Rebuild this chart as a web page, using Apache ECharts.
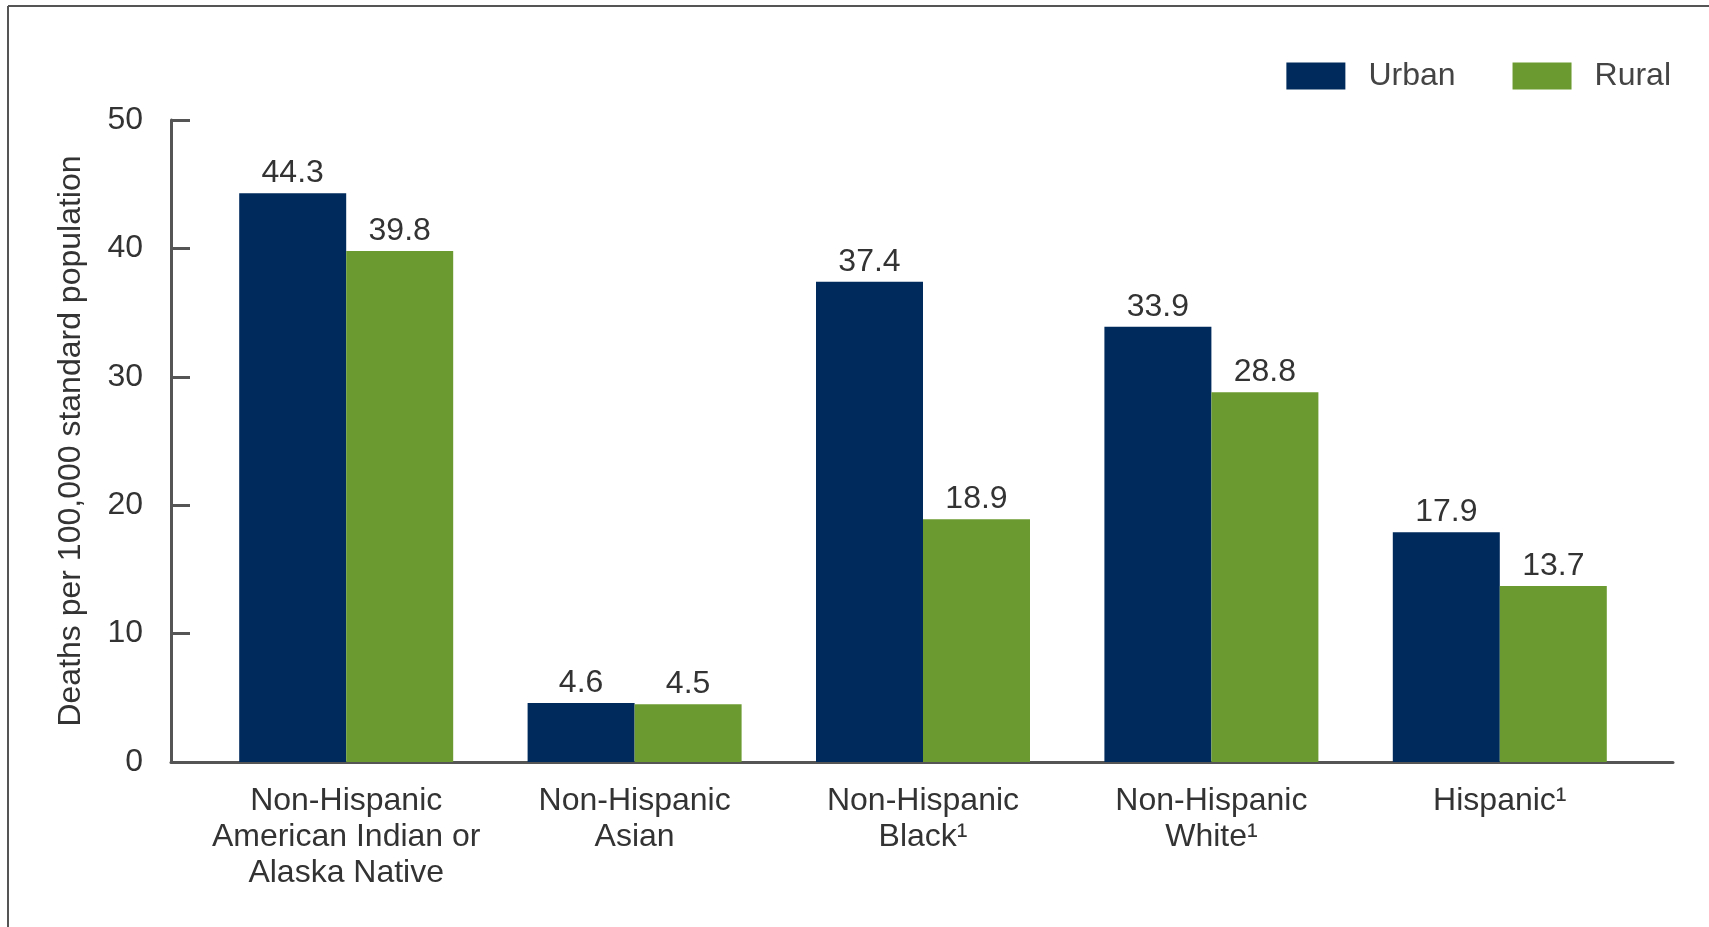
<!DOCTYPE html>
<html>
<head>
<meta charset="utf-8">
<script src="https://cdn.jsdelivr.net/npm/echarts@6/dist/echarts.min.js"></script>
<style>
html,body{margin:0;padding:0;background:#fff;}
#chart{width:1709px;height:927px;}
</style>
</head>
<body>
<div id="chart"></div>
<script>
const categories = [
  "Non-Hispanic\nAmerican Indian or\nAlaska Native",
  "Non-Hispanic\nAsian",
  "Non-Hispanic\nBlack¹",
  "Non-Hispanic\nWhite¹",
  "Hispanic¹"
];
const urbanValues = [44.3, 4.6, 37.4, 33.9, 17.9];
const ruralValues = [39.8, 4.5, 18.9, 28.8, 13.7];
const seriesNames = ["Urban", "Rural"];
const yTicks = { min: 0, max: 50, interval: 10 };
const yAxisTitle = "Deaths per 100,000 standard population";

const FONT = "'Liberation Sans', Arial, sans-serif";
const AXIS = "#555";
const TEXT = "#333";

const chart = echarts.init(document.getElementById('chart'));
chart.setOption({
  backgroundColor: '#fff',
  animation: false,
  textStyle: { fontFamily: FONT },
  graphic: [
    { type: 'line', shape: { x1: 8, y1: 6, x2: 1709, y2: 6 }, style: { stroke: '#555', lineWidth: 2 } },
    { type: 'line', shape: { x1: 8, y1: 6, x2: 8, y2: 927 }, style: { stroke: '#555', lineWidth: 2 } }
  ],
  legend: {
    right: 33, top: 55,
    itemWidth: 59, itemHeight: 27, itemGap: 57,
    icon: 'rect',
    textStyle: { fontSize: 32, color: '#444', fontFamily: FONT, padding: [0, 0, 0, 18] },
    data: seriesNames
  },
  grid: [
    { left: 171, right: 36, top: 120, bottom: 165 },
    { left: 202, right: 65, top: 120, bottom: 165 }
  ],
  xAxis: [
    { gridIndex: 0, type: 'value', min: 0, max: 1, axisLine: { show: true, lineStyle: { color: AXIS, width: 3 } },
      axisTick: { show: false }, axisLabel: { show: false }, splitLine: { show: false } },
    { gridIndex: 1, type: 'category', data: categories, axisLine: { show: false }, axisTick: { show: false },
      axisLabel: { fontSize: 32, color: TEXT, lineHeight: 36, margin: 21, interval: 0, fontFamily: FONT } }
  ],
  yAxis: [
    { gridIndex: 0, type: 'value', min: yTicks.min, max: yTicks.max, interval: yTicks.interval,
      name: yAxisTitle, nameLocation: 'middle', nameGap: 84, nameRotate: 90,
      nameTextStyle: { fontSize: 32, color: TEXT, fontFamily: FONT },
      axisLine: { show: true, lineStyle: { color: AXIS, width: 3 } },
      axisTick: { show: true, inside: true, length: 19, lineStyle: { color: AXIS, width: 3 } },
      axisLabel: { fontSize: 32, color: TEXT, margin: 28, fontFamily: FONT },
      splitLine: { show: false } },
    { gridIndex: 1, type: 'value', min: yTicks.min, max: yTicks.max, show: false, splitLine: { show: false } }
  ],
  series: [
    { name: seriesNames[0], type: 'bar', xAxisIndex: 1, yAxisIndex: 1, data: urbanValues,
      barWidth: 107, barGap: '0%', itemStyle: { color: '#002a5c' },
      label: { show: true, position: 'top', distance: 4, fontSize: 32, color: TEXT, fontFamily: FONT } },
    { name: seriesNames[1], type: 'bar', xAxisIndex: 1, yAxisIndex: 1, data: ruralValues,
      barWidth: 107, barGap: '0%', itemStyle: { color: '#6b9b30' },
      label: { show: true, position: 'top', distance: 4, fontSize: 32, color: TEXT, fontFamily: FONT } }
  ]
});
</script>
</body>
</html>
